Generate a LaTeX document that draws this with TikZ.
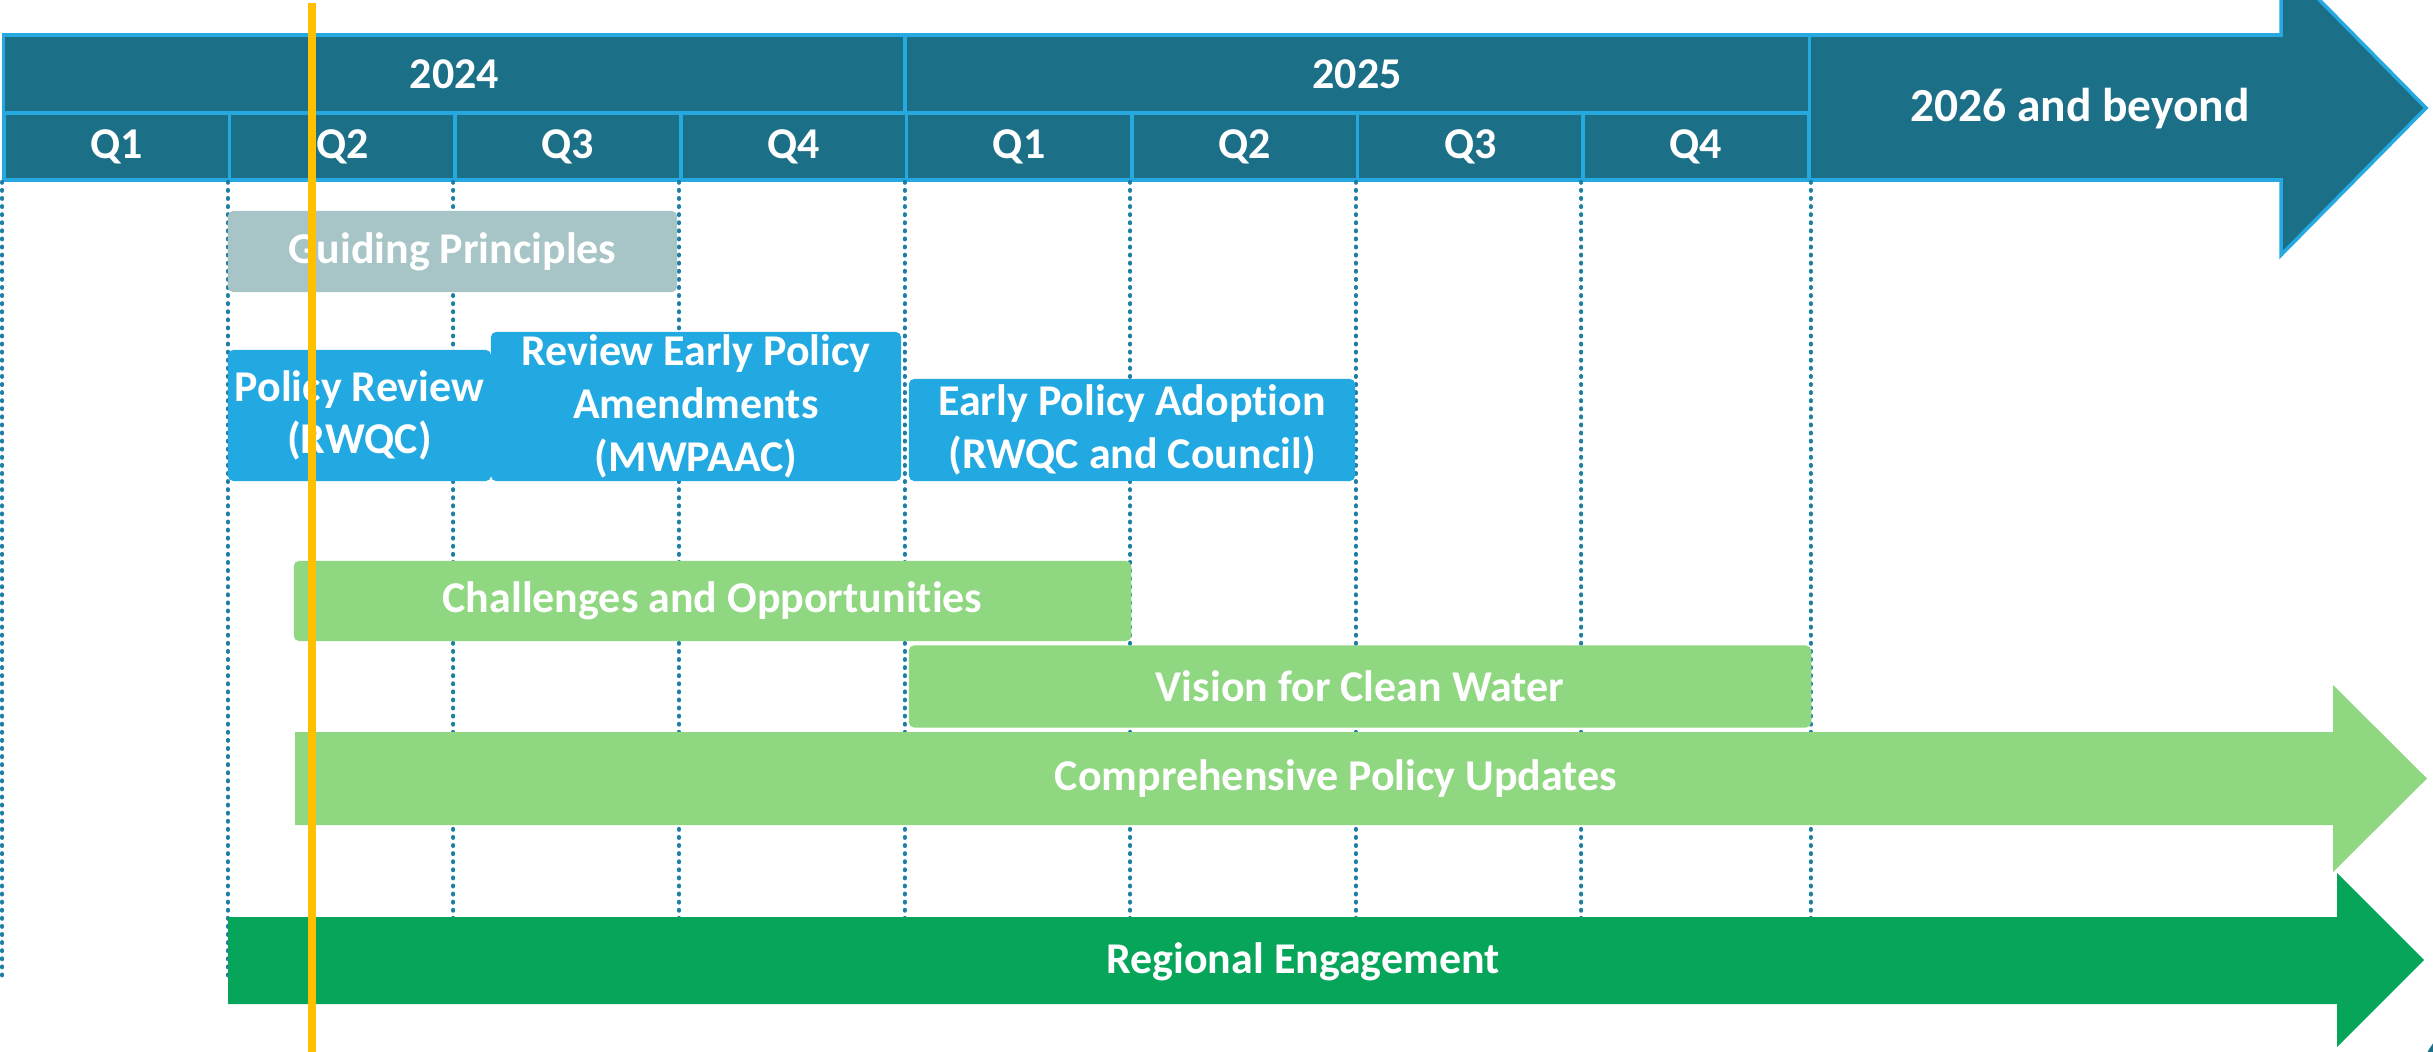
\documentclass[tikz,border=0pt]{standalone}
\usepackage{fontspec}
\setmainfont{Carlito}[Ligatures=NoCommon]
\usepackage{tikz}
\usetikzlibrary{positioning}

\definecolor{headteal}{HTML}{1B7088}
\definecolor{headline}{HTML}{25A9E0}
\definecolor{guidegrey}{HTML}{A7C4C6}
\definecolor{policyblue}{HTML}{22A9E1}
\definecolor{lightgreen}{HTML}{8FD780}
\definecolor{darkgreen}{HTML}{06A55A}
\definecolor{nowline}{HTML}{FFC000}
\definecolor{gridblue}{HTML}{1E7EA6}

\tikzset{
    lbl/.style={text=white, font=\bfseries\fontsize{12.5}{15}\selectfont, align=center, inner sep=0pt},
    yearcell/.style={lbl, draw=headline, fill=headteal, line width=1pt, minimum height=0.78cm},
    qcell/.style={yearcell, minimum width=2.256cm, minimum height=0.67cm},
    bar/.style={lbl, rounded corners=1.5pt},
    gridline/.style={gridblue, line width=1.1pt, line cap=round, dash pattern=on 0.3pt off 2pt}
}

\begin{document}
\begin{tikzpicture}[x=0.01cm,y=-0.01cm]
        \useasboundingbox (0,0) rectangle (2433,1052);
        % header arrow for the later years
        \filldraw[fill=headteal, draw=headline, line width=1pt] (1809,35) -- (2281,35) -- (2281,-39) -- (2426,108) -- (2281,255) -- (2281,180) -- (1809,180) -- cycle;
        \node[lbl, font=\bfseries\fontsize{13.5}{16}\selectfont] (beyond) at (2080,109) {2026 and beyond};
        % years
        \node[yearcell, minimum width=9.01cm] (y2024) at (454.5,74) {2024};
        \node[yearcell, minimum width=9.04cm] (y2025) at (1357,74) {2025};
        % quarters
        \node[qcell] (q1) at (116.8,146.5) {Q1};
        \node[qcell] (q2) at (342.4,146.5) {Q2};
        \node[qcell] (q3) at (568,146.5) {Q3};
        \node[qcell] (q4) at (793.6,146.5) {Q4};
        \node[qcell] (q5) at (1019.2,146.5) {Q1};
        \node[qcell] (q6) at (1244.8,146.5) {Q2};
        \node[qcell] (q7) at (1470.4,146.5) {Q3};
        \node[qcell] (q8) at (1696,146.5) {Q4};
        % dotted quarter lines
        \draw[gridline] (q1.south west) -- ++(0,798);
        \draw[gridline] (q2.south west) -- ++(0,798);
        \draw[gridline] (q3.south west) -- ++(0,740);
        \draw[gridline] (q4.south west) -- ++(0,740);
        \draw[gridline] (q5.south west) -- ++(0,740);
        \draw[gridline] (q6.south west) -- ++(0,740);
        \draw[gridline] (q7.south west) -- ++(0,740);
        \draw[gridline] (q8.south west) -- ++(0,740);
        \draw[gridline] (q8.south east) -- ++(0,740);
        % tasks
        \node[bar, fill=guidegrey, minimum width=4.49cm, minimum height=0.81cm] (guide) at (452.5,251.5) {Guiding Principles};
        \node[bar, fill=policyblue, minimum width=2.63cm, minimum height=1.31cm] (review) at (359.5,415.5) {Policy Review\\(RWQC)};
        \node[bar, fill=policyblue, minimum width=4.10cm, minimum height=1.49cm] (amend) at (696,406.5) {Review Early Policy\\Amendments\\(MWPAAC)};
        \node[bar, fill=policyblue, minimum width=4.46cm, minimum height=1.02cm] (adopt) at (1132,430) {Early Policy Adoption\\(RWQC and Council)};
        \node[bar, fill=lightgreen, minimum width=8.37cm, minimum height=0.80cm] (chall) at (712.5,601) {Challenges and Opportunities};
        \node[bar, fill=lightgreen, minimum width=9.02cm, minimum height=0.82cm] (vision) at (1360,686.5) {Vision for Clean Water};
        % long running arrows
        \fill[lightgreen] (295,732) -- (2333,732) -- (2333,685) -- (2427,778.5) -- (2333,872) -- (2333,825) -- (295,825) -- cycle;
        \node[lbl] (comp) at (1336,779) {Comprehensive Policy Updates};
        \fill[darkgreen] (228,917) -- (2337,917) -- (2337,873) -- (2424,960) -- (2337,1047) -- (2337,1004) -- (228,1004) -- cycle;
        \node[lbl] (regional) at (1303,962) {Regional Engagement};
        % today marker
        \draw[nowline, line width=2.1pt] (312,3) -- (312,1052);
        \node[text=headteal, font=\bfseries\fontsize{12}{14}\selectfont, anchor=north west, inner sep=0pt] (pagenum) at (2425,1038) {6};
    \end{tikzpicture}
\end{document}
